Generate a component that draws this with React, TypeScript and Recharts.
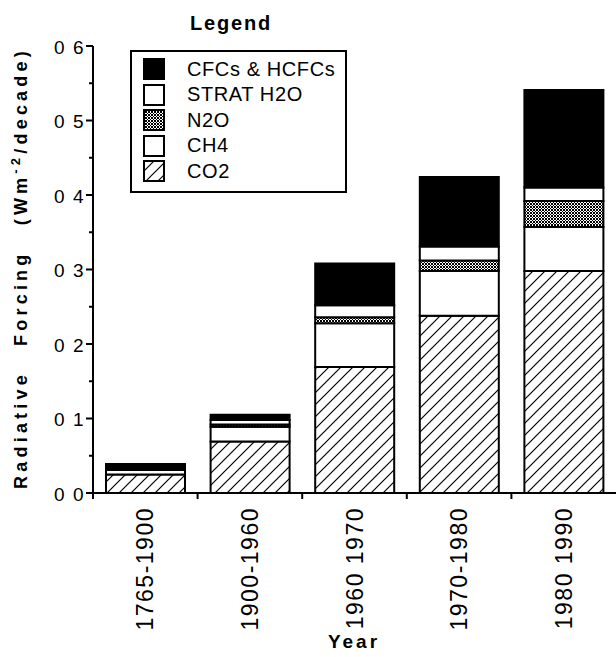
import { BarChart, Bar, XAxis, YAxis, Legend, Label } from "recharts"

const periods = ["1765-1900", "1900-1960", "1960 1970", "1970-1980", "1980 1990"]
const co2 = [0.025, 0.069, 0.169, 0.238, 0.298]
const ch4 = [0.006, 0.02, 0.059, 0.06, 0.059]
const n2o = [0.001, 0.003, 0.008, 0.014, 0.035]
const stratH2O = [0.002, 0.006, 0.016, 0.019, 0.018]
const cfcs = [0.005, 0.007, 0.056, 0.093, 0.131]
const yTicks = [0, 0.05, 0.1, 0.15, 0.2, 0.25, 0.3, 0.35, 0.4, 0.45, 0.5, 0.55, 0.6]

const chartData = periods.map((period, i) => ({
  period,
  co2: co2[i],
  ch4: ch4[i],
  n2o: n2o[i],
  strat: stratH2O[i],
  cfcs: cfcs[i],
}))

// bottom to top in the stack
const series = [
  { key: "co2", name: "CO2", pattern: "hatch", fill: "#fff" },
  { key: "ch4", name: "CH4", pattern: "", fill: "#fff" },
  { key: "n2o", name: "N2O", pattern: "stipple", fill: "#fff" },
  { key: "strat", name: "STRAT H2O", pattern: "", fill: "#fff" },
  { key: "cfcs", name: "CFCs & HCFCs", pattern: "", fill: "#000" },
]

const W = 616
const H = 657
const AXIS_X = 93
const AXIS_Y = 493
const BAND = (W - AXIS_X) / periods.length
const FONT = "'Liberation Sans', Arial, Helvetica, sans-serif"

const fillOf = (s: (typeof series)[number], prefix: string) =>
  s.pattern ? `url(#${prefix}${s.pattern})` : s.fill

function Patterns({ prefix }: { prefix: string }) {
  return (
    <defs>
      <pattern id={`${prefix}hatch`} patternUnits="userSpaceOnUse" width={12} height={12}>
        <rect width={12} height={12} fill="#fff" />
        <path d="M0,12 L12,0 M-3,3 L3,-3 M9,15 L15,9" stroke="#000" strokeWidth={1.2} />
      </pattern>
      <pattern id={`${prefix}stipple`} patternUnits="userSpaceOnUse" width={3} height={3}>
        <rect width={3} height={3} fill="#fff" />
        <rect x={0} y={0} width={1} height={1} fill="#000" />
        <rect x={2} y={0} width={1} height={1} fill="#000" />
        <rect x={1} y={1} width={1} height={1} fill="#000" />
        <rect x={0} y={2} width={1} height={1} fill="#000" />
        <rect x={2} y={2} width={1} height={1} fill="#000" />
      </pattern>
    </defs>
  )
}

function YTick({ y, payload }: any) {
  const v = payload.value
  const major = Math.round(v * 100) % 10 === 0
  return (
    <g>
      <line x1={AXIS_X - (major ? 7 : 4)} x2={AXIS_X} y1={y} y2={y} stroke="#000" strokeWidth={2} />
      {major && (
        <text x={AXIS_X - 8} y={y} dy="0.4em" textAnchor="end" fontFamily={FONT} fontSize={19} letterSpacing={1.5} fill="#000">
          {v.toFixed(1).replace(".", " ")}
        </text>
      )}
    </g>
  )
}

function XTick({ x, payload }: any) {
  const lx = x - BAND / 2
  return (
    <g>
      <line x1={lx} x2={lx} y1={AXIS_Y} y2={AXIS_Y + 6} stroke="#000" strokeWidth={2} />
      <text
        x={x}
        y={507}
        dy="0.35em"
        transform={`rotate(-90 ${x} 507)`}
        textAnchor="end"
        fontFamily={FONT}
        fontSize={23}
        letterSpacing={1.5}
        fill="#000"
      >
        {payload.value}
      </text>
    </g>
  )
}

function LegendBox() {
  const rows = [...series].reverse()
  return (
    <div style={{ position: "relative", width: W, height: 0, fontFamily: FONT }}>
      <div style={{ position: "absolute", left: 190, top: 12, fontSize: 20, fontWeight: "bold", letterSpacing: 1.8, whiteSpace: "nowrap" }}>
        Legend
      </div>
      <div style={{ position: "absolute", left: 130, top: 50, width: 213, height: 139, border: "2px solid #000" }}>
        {rows.map((s, i) => (
          <div key={s.key} style={{ position: "absolute", left: 11, top: 6 + i * 25.5, height: 22, display: "flex", alignItems: "center", whiteSpace: "nowrap" }}>
            <svg width={22} height={22} style={{ display: "block" }}>
              <Patterns prefix={`lg-${s.key}-`} />
              <rect x={1} y={1} width={20} height={20} fill={fillOf(s, `lg-${s.key}-`)} stroke="#000" strokeWidth={2} />
            </svg>
            <span style={{ marginLeft: 22, fontSize: 20, letterSpacing: 0.6, color: "#000" }}>{s.name}</span>
          </div>
        ))}
      </div>
    </div>
  )
}

function YLabel() {
  return (
    <text
      x={21}
      y={268}
      transform="rotate(-90 21 268)"
      textAnchor="middle"
      dy="0.35em"
      fontFamily={FONT}
      fontSize={18}
      fontWeight="bold"
      letterSpacing={4.2}
      wordSpacing={16}
      fill="#000"
    >
      Radiative Forcing (Wm
      <tspan fontSize={13} dy={-7}>-2</tspan>
      <tspan dy={7}>/decade)</tspan>
    </text>
  )
}

function XLabel() {
  return (
    <text x={354} y={648} textAnchor="middle" fontFamily={FONT} fontSize={19} fontWeight="bold" letterSpacing={3} fill="#000">
      Year
    </text>
  )
}

export default function App() {
  return (
    <div style={{ position: "absolute", left: 0, top: 0, width: W, height: H, background: "#fff" }}>
      <BarChart width={W} height={H} data={chartData} margin={{ top: 46, right: 0, bottom: 0, left: 0 }} barSize={79}>
        <Patterns prefix="" />
        <XAxis
          dataKey="period"
          height={H - AXIS_Y}
          axisLine={{ stroke: "#000", strokeWidth: 2 }}
          tickLine={false}
          tick={<XTick />}
          interval={0}
        >
          <Label content={<XLabel />} />
        </XAxis>
        <YAxis
          width={AXIS_X}
          domain={[0, 0.6]}
          ticks={yTicks}
          interval={0}
          axisLine={{ stroke: "#000", strokeWidth: 2 }}
          tickLine={false}
          tick={<YTick />}
        >
          <Label content={<YLabel />} />
        </YAxis>
        <Legend
          content={<LegendBox />}
          layout="vertical"
          align="center"
          verticalAlign="middle"
          wrapperStyle={{ left: 0, top: 0, width: W, height: 0, margin: 0 }}
        />
        {series.map((s) => (
          <Bar
            key={s.key}
            dataKey={s.key}
            name={s.name}
            stackId="forcing"
            fill={fillOf(s, "")}
            stroke="#000"
            strokeWidth={2}
            isAnimationActive={false}
          />
        ))}
      </BarChart>
    </div>
  )
}
